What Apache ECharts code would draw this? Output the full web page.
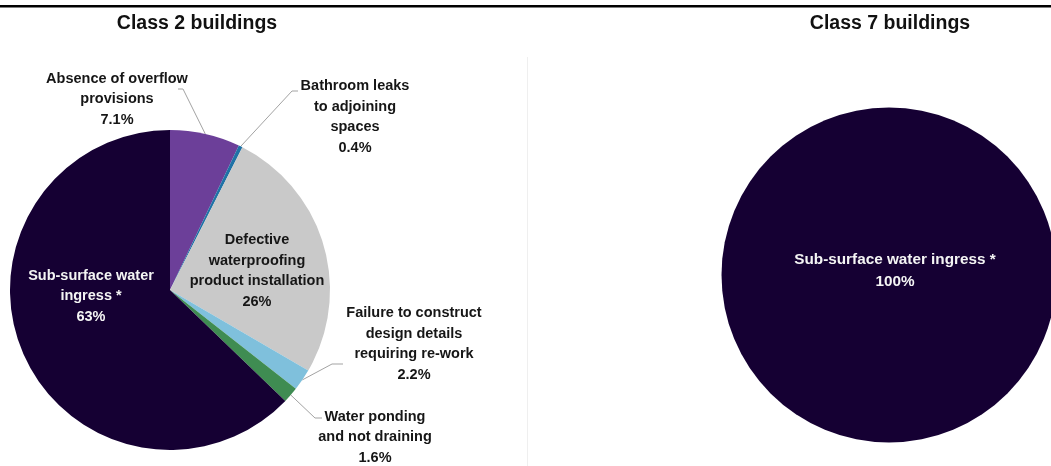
<!DOCTYPE html>
<html>
<head>
<meta charset="utf-8">
<script src="https://cdn.jsdelivr.net/npm/echarts@6/dist/echarts.min.js"></script>
<style>
  html, body { margin: 0; padding: 0; background: #ffffff; }
  #chart { width: 1051px; height: 466px; }
</style>
</head>
<body>
<div id="chart"></div>
<script>
// Causes of waterproofing defects, share of reported cases (%)
const panelTitles = ['Class 2 buildings', 'Class 7 buildings'];

const class2Causes = [
  'Absence of overflow\nprovisions',
  'Bathroom leaks\nto adjoining\nspaces',
  'Defective\nwaterproofing\nproduct installation',
  'Failure to construct\ndesign details\nrequiring re-work',
  'Water ponding\nand not draining',
  'Sub-surface water\ningress *'
];
const class2Shares = [7.1, 0.4, 26, 2.2, 1.6, 63];

const class7Causes = ['Sub-surface water ingress *'];
const class7Shares = [100];

// slice colours, in the same order as the causes
const class2Colors = ['#6c3f99', '#1f72a6', '#c9c9c9', '#7fc0dc', '#3f8c52', '#150033'];
const class7Colors = ['#150033'];

// slices whose label sits on the slice itself, and its text colour
const insideLabelColor = { 2: '#161616', 5: '#f4f4f4' };

// label block centres and leader-line elbows (relative to the label centre)
const class2LabelSpots = [
  { x: 117, y: 99,  elbow: [[66, -10], [61, -10]] },
  { x: 355, y: 117, elbow: [[-63, -26], [-57, -26]] },
  { x: 257, y: 271 },
  { x: 414, y: 344, elbow: [[-82, 20], [-71, 20]] },
  { x: 375, y: 437, elbow: [[-60, -19], [-53, -19]] },
  { x: 91,  y: 296 }
];

const leftPie = { center: [170, 290], radius: 160 };
const rightPie = { center: [889, 275], radius: 167.5 };

// Prefer a condensed face for the slice labels when it is installed
function fontInstalled(name) {
  const ctx = document.createElement('canvas').getContext('2d');
  const probe = 'Failure to construct design details';
  ctx.font = 'bold 40px monospace';
  const base = ctx.measureText(probe).width;
  ctx.font = 'bold 40px "' + name + '", monospace';
  return ctx.measureText(probe).width !== base;
}
const narrow = fontInstalled('Liberation Sans Narrow');
const labelFamily = narrow ? '"Liberation Sans Narrow", "Liberation Sans", Arial, sans-serif'
                           : '"Liberation Sans", Arial, sans-serif';
const labelSize = narrow ? 17 : 14.5;
const bigLabelSize = narrow ? 18 : 15.3;

function sharePct(v) { return v + '%'; }

// start of a leader line: outer edge of the slice at its middle angle
function sliceEdgePoint(index) {
  const total = class2Shares.reduce((a, b) => a + b, 0);
  let before = 0;
  for (let i = 0; i < index; i++) before += class2Shares[i];
  const mid = (before + class2Shares[index] / 2) / total * Math.PI * 2;
  return [
    leftPie.center[0] + leftPie.radius * Math.sin(mid),
    leftPie.center[1] - leftPie.radius * Math.cos(mid)
  ];
}

const chart = echarts.init(document.getElementById('chart'), null, { renderer: 'canvas' });

chart.setOption({
  backgroundColor: '#ffffff',
  animation: false,
  graphic: [
    { type: 'rect', shape: { x: 0, y: 5, width: 1051, height: 2.4 }, style: { fill: '#000000' }, silent: true },
    { type: 'line', shape: { x1: 527.5, y1: 57, x2: 527.5, y2: 466 }, style: { stroke: '#efefef', lineWidth: 1 }, silent: true },
    { type: 'text', x: 197, y: 24, silent: true,
      style: { text: panelTitles[0], align: 'center', verticalAlign: 'middle',
               font: 'bold 19.5px "Liberation Sans", Arial, sans-serif', fill: '#111111' } },
    { type: 'text', x: 890, y: 24, silent: true,
      style: { text: panelTitles[1], align: 'center', verticalAlign: 'middle',
               font: 'bold 19.5px "Liberation Sans", Arial, sans-serif', fill: '#111111' } }
  ],
  series: [
    {
      type: 'pie',
      center: leftPie.center,
      radius: leftPie.radius,
      startAngle: 90,
      clockwise: true,
      avoidLabelOverlap: false,
      silent: true,
      itemStyle: { borderWidth: 0 },
      label: {
        formatter: p => p.name + '\n' + sharePct(p.value),
        fontFamily: labelFamily,
        fontSize: labelSize,
        fontWeight: 'bold',
        lineHeight: 20.5,
        color: '#161616',
        align: 'center'
      },
      labelLine: { show: true, length: 10, length2: 8, lineStyle: { color: '#a3a3a3', width: 1 } },
      data: class2Causes.map((name, i) => {
        const inside = insideLabelColor[i] !== undefined;
        return {
          name: name,
          value: class2Shares[i],
          itemStyle: { color: class2Colors[i] },
          label: inside ? { position: 'inside', color: insideLabelColor[i] } : { position: 'outside' },
          labelLine: { show: !inside }
        };
      }),
      labelLayout: params => {
        const spot = class2LabelSpots[params.dataIndex];
        const out = { x: spot.x, y: spot.y, align: 'center', verticalAlign: 'middle' };
        if (spot.elbow) {
          const start = (params.labelLinePoints && params.labelLinePoints[0]) || sliceEdgePoint(params.dataIndex);
          out.labelLinePoints = [
            start,
            [spot.x + spot.elbow[0][0], spot.y + spot.elbow[0][1]],
            [spot.x + spot.elbow[1][0], spot.y + spot.elbow[1][1]]
          ];
        }
        return out;
      }
    },
    {
      type: 'pie',
      center: rightPie.center,
      radius: rightPie.radius,
      startAngle: 90,
      clockwise: true,
      silent: true,
      itemStyle: { borderWidth: 0 },
      label: {
        position: 'center',
        formatter: p => p.name + '\n' + sharePct(p.value),
        fontFamily: labelFamily,
        fontSize: bigLabelSize,
        fontWeight: 'bold',
        lineHeight: 22,
        color: '#f4f4f4',
        align: 'center'
      },
      labelLine: { show: false },
      data: class7Causes.map((name, i) => ({
        name: name,
        value: class7Shares[i],
        itemStyle: { color: class7Colors[i] }
      })),
      labelLayout: () => ({ x: rightPie.center[0] + 6, y: rightPie.center[1] - 4, align: 'center', verticalAlign: 'middle' })
    }
  ]
});
</script>
</body>
</html>
